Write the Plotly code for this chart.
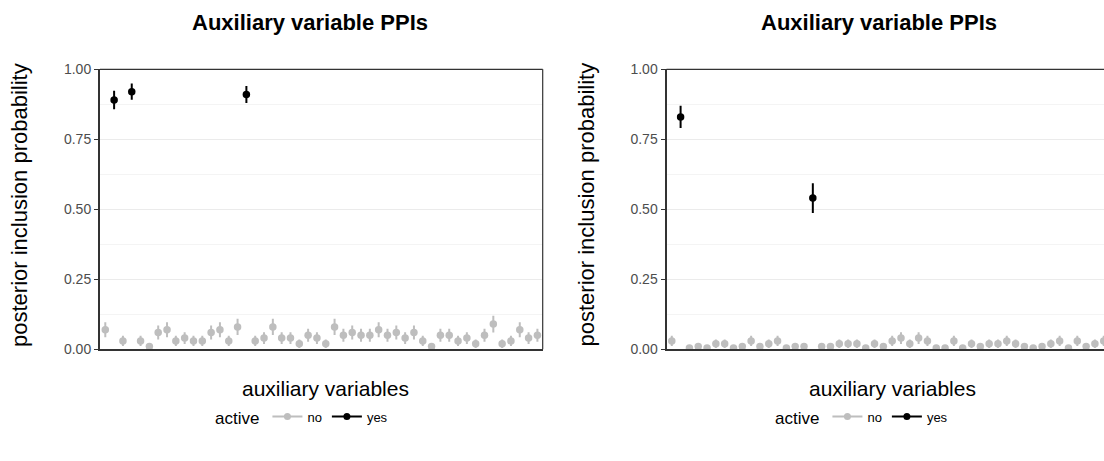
import plotly.graph_objects as go

# Posterior inclusion probabilities (PPI) for 50 auxiliary variables, two runs
variables = list(range(1, 51))

ppi_left = [0.07, 0.89, 0.03, 0.92, 0.03, 0.01, 0.06, 0.07, 0.03, 0.04,
            0.03, 0.03, 0.06, 0.07, 0.03, 0.08, 0.91, 0.03, 0.04, 0.08,
            0.04, 0.04, 0.02, 0.05, 0.04, 0.02, 0.08, 0.05, 0.06, 0.05,
            0.05, 0.07, 0.05, 0.06, 0.04, 0.06, 0.03, 0.01, 0.05, 0.05,
            0.03, 0.04, 0.02, 0.05, 0.09, 0.02, 0.03, 0.07, 0.04, 0.05]
err_left = [0.027, 0.033, 0.018, 0.029, 0.018, 0.011, 0.025, 0.027, 0.018, 0.021,
            0.018, 0.018, 0.025, 0.027, 0.018, 0.029, 0.030, 0.018, 0.021, 0.029,
            0.021, 0.021, 0.015, 0.023, 0.021, 0.015, 0.029, 0.023, 0.025, 0.023,
            0.023, 0.027, 0.023, 0.025, 0.021, 0.025, 0.018, 0.011, 0.023, 0.023,
            0.018, 0.021, 0.015, 0.023, 0.030, 0.015, 0.018, 0.027, 0.021, 0.023]
active_left = [2, 4, 17]

ppi_right = [0.03, 0.83, 0.005, 0.01, 0.005, 0.02, 0.02, 0.005, 0.01, 0.03,
             0.01, 0.02, 0.03, 0.005, 0.01, 0.01, 0.54, 0.01, 0.01, 0.02,
             0.02, 0.02, 0.005, 0.02, 0.01, 0.03, 0.04, 0.02, 0.04, 0.03,
             0.005, 0.005, 0.03, 0.005, 0.02, 0.01, 0.02, 0.02, 0.03, 0.02,
             0.01, 0.005, 0.01, 0.02, 0.03, 0.005, 0.03, 0.01, 0.02, 0.03]
err_right = [0.018, 0.040, 0.008, 0.011, 0.008, 0.015, 0.015, 0.008, 0.011, 0.018,
             0.011, 0.015, 0.018, 0.008, 0.011, 0.011, 0.053, 0.011, 0.011, 0.015,
             0.015, 0.015, 0.008, 0.015, 0.011, 0.018, 0.021, 0.015, 0.021, 0.018,
             0.008, 0.008, 0.018, 0.008, 0.015, 0.011, 0.015, 0.015, 0.018, 0.015,
             0.011, 0.008, 0.011, 0.015, 0.018, 0.008, 0.018, 0.011, 0.015, 0.018]
active_right = [2, 17]

y_ticks = [0.0, 0.25, 0.5, 0.75, 1.0]
y_minor = [0.125, 0.375, 0.625, 0.875]

title_text = "Auxiliary variable PPIs"
x_title = "auxiliary variables"
y_title = "posterior inclusion probability"
legend_title = "active"
groups = [("no", "#BEBEBE"), ("yes", "#000000")]

W, H = 1104, 461
FONT = "Liberation Sans, Arial, sans-serif"


def px_x(v):
    return v / W


def px_y(v):
    return (H - v) / H


fig = go.Figure()

panels = [
    dict(ppi=ppi_left, err=err_left, active=active_left, xa="x", ya="y", legend="legend"),
    dict(ppi=ppi_right, err=err_right, active=active_right, xa="x2", ya="y2", legend="legend2"),
]

for p in panels:
    # point-ranges: markers with vertical interval bars
    for label, color in groups:
        sel = [i for i, v in enumerate(variables) if (v in p["active"]) == (label == "yes")]
        fig.add_trace(go.Scatter(
            x=[variables[i] for i in sel],
            y=[p["ppi"][i] for i in sel],
            error_y=dict(type="data", array=[p["err"][i] for i in sel],
                         color=color, thickness=2, width=0),
            mode="markers",
            marker=dict(color=color, size=7.5),
            name=label, showlegend=False,
            xaxis=p["xa"], yaxis=p["ya"],
        ))
    # empty traces give the "line + point" legend key
    for label, color in groups:
        fig.add_trace(go.Scatter(
            x=[None], y=[None], mode="lines+markers",
            line=dict(color=color, width=2), marker=dict(color=color, size=7),
            name=label, xaxis=p["xa"], yaxis=p["ya"], legend=p["legend"],
        ))

y_dom = [px_y(349.3), px_y(69.3)]
x_dom_left = [px_x(100), px_x(542.7)]
x_dom_right = [px_x(666.5), 1.0]

common_x = dict(showticklabels=False, ticks="", showgrid=False, zeroline=False,
                showline=True, linecolor="#333333", linewidth=2, automargin=False)
common_y = dict(range=[0, 1], tickvals=y_ticks, tickformat=".2f",
                ticks="outside", ticklen=4, tickwidth=1.2, tickcolor="#333333",
                tickfont=dict(size=14, color="#4D4D4D", family=FONT),
                showgrid=True, gridcolor="#EBEBEB", gridwidth=1.1,
                zeroline=False, showline=True, linecolor="#333333", linewidth=2,
                automargin=False,
                minor=dict(tickvals=y_minor, showgrid=True, gridcolor="#F4F4F4",
                           gridwidth=1, ticklen=0))

legend_common = dict(orientation="h", xanchor="center", yanchor="middle",
                     title=dict(text=legend_title, side="left", font=dict(size=17, family=FONT)),
                     font=dict(size=13, family=FONT), itemwidth=30, bgcolor="rgba(0,0,0,0)")

fig.update_layout(
    width=W, height=H,
    margin=dict(l=0, r=0, t=0, b=0, pad=0, autoexpand=False),
    paper_bgcolor="white", plot_bgcolor="white",
    font=dict(family=FONT, color="#000000"),
    xaxis=dict(domain=x_dom_left, range=[0.4, 50.6], anchor="y", **common_x),
    yaxis=dict(domain=y_dom, anchor="x", **common_y),
    xaxis2=dict(domain=x_dom_right, range=[0.4, 50.03], anchor="y2", **common_x),
    yaxis2=dict(domain=y_dom, anchor="x2", **common_y),
    legend=dict(x=px_x(303), y=px_y(418), **legend_common),
    legend2=dict(x=px_x(863), y=px_y(418), **legend_common),
)

# panel border: top and right edges
for xa, ya, right in [("x", "y", True), ("x2", "y2", False)]:
    fig.add_shape(type="line", xref=f"{xa} domain", yref=f"{ya} domain",
                  x0=0, x1=1, y0=1, y1=1, line=dict(color="#333333", width=1.2))
    if right:
        fig.add_shape(type="line", xref=f"{xa} domain", yref=f"{ya} domain",
                      x0=1, x1=1, y0=0, y1=1, line=dict(color="#333333", width=1.2))

# titles and axis titles
for cx in [310, 878.5]:
    fig.add_annotation(text=f"<b>{title_text}</b>", x=px_x(cx), y=px_y(22),
                       xref="paper", yref="paper", showarrow=False,
                       xanchor="center", yanchor="middle", font=dict(size=22, family=FONT))
for cx in [325, 892]:
    fig.add_annotation(text=x_title, x=px_x(cx), y=px_y(388), xref="paper", yref="paper",
                       showarrow=False, xanchor="center", yanchor="middle",
                       font=dict(size=21, family=FONT))
for lx in [19, 585.5]:
    fig.add_annotation(text=y_title, x=px_x(lx), y=px_y(205), xref="paper", yref="paper",
                       showarrow=False, textangle=-90, xanchor="center", yanchor="middle",
                       font=dict(size=22, family=FONT))

fig.write_html("out.html",
               post_script="document.body.style.margin='0';")
